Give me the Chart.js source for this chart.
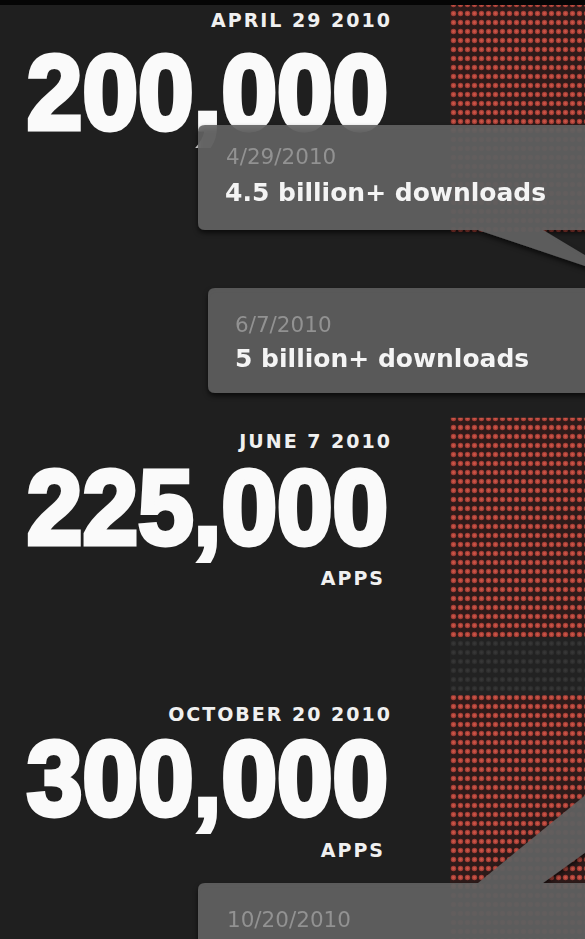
<!DOCTYPE html>
<html>
<head>
<meta charset="utf-8">
<script src="https://cdn.jsdelivr.net/npm/chart.js@4.4.0/dist/chart.umd.min.js"></script>
<style>
  html,body{margin:0;padding:0;width:585px;height:939px;overflow:hidden;background:#1f1f1f;}
  #wrap{position:absolute;left:450px;top:0;width:135px;height:939px;}
  #topbar{position:absolute;left:0;top:0;width:585px;height:5px;background:#050505;z-index:5;}
  .big{position:absolute;right:197px;line-height:0;height:0;white-space:nowrap;
       font-family:"Liberation Sans",Arial,sans-serif;font-weight:bold;font-size:106px;color:#fafafa;
       -webkit-text-stroke:5px #fafafa;transform:scaleX(0.943);transform-origin:right center;z-index:1;}
  .lab{position:absolute;line-height:0;height:0;white-space:nowrap;text-align:right;
       font-family:"DejaVu Sans",sans-serif;font-weight:bold;font-size:19px;letter-spacing:2px;color:#f0f0f0;z-index:1;}
  #callouts{position:absolute;left:0;top:0;z-index:2;}
  .cd{position:absolute;line-height:0;height:0;white-space:nowrap;font-family:"DejaVu Sans",sans-serif;
      font-size:21.5px;color:#929292;z-index:3;}
  .cm{position:absolute;line-height:0;height:0;white-space:nowrap;font-family:"DejaVu Sans",sans-serif;
      font-weight:bold;font-size:25px;color:#f4f4f4;z-index:3;}
</style>
</head>
<body>
<div id="topbar"></div>
<div id="wrap"><canvas id="c"></canvas></div>

<div class="lab" style="right:193px;top:20.4px;">APRIL 29 2010</div>
<div class="big" style="top:91.8px;">200,000</div>

<div class="lab" style="right:193px;top:441.4px;">JUNE 7 2010</div>
<div class="big" style="top:506.8px;">225,000</div>
<div class="lab" style="right:200px;top:578.4px;">APPS</div>

<div class="lab" style="right:193px;top:714.4px;">OCTOBER 20 2010</div>
<div class="big" style="top:777.8px;">300,000</div>
<div class="lab" style="right:200px;top:850.4px;">APPS</div>

<svg id="callouts" width="585" height="939">
  <defs>
    <filter id="sh" x="-10%" y="-20%" width="130%" height="150%">
      <feDropShadow dx="0" dy="3" stdDeviation="2.5" flood-color="#000" flood-opacity="0.7"/>
    </filter>
  </defs>
  <path filter="url(#sh)" fill="rgba(98,98,98,0.9)"
        d="M205,125 H600 V230 H543 L600,264 V271 L478,230 H205 Q198,230 198,223 V132 Q198,125 205,125 Z"/>
  <path filter="url(#sh)" fill="rgba(94,94,94,0.9)"
        d="M215,288 H600 V393 H215 Q208,393 208,386 V295 Q208,288 215,288 Z"/>
  <path filter="url(#sh)" fill="rgba(98,98,98,0.9)"
        d="M205,883 H478 L600,783 V842 L543,883 H600 V960 H198 V890 Q198,883 205,883 Z"/>
</svg>

<div class="cd" style="left:226px;top:156.6px;">4/29/2010</div>
<div class="cm" style="left:225px;top:193.4px;">4.5 billion+ downloads</div>
<div class="cd" style="left:235px;top:324.6px;">6/7/2010</div>
<div class="cm" style="left:235px;top:359.4px;">5 billion+ downloads</div>
<div class="cd" style="left:227px;top:919.6px;">10/20/2010</div>

<script>
// Vertical dot-matrix column: segments along the timeline (top -> bottom)
const segmentNames = ['April 29 2010', 'June 7 2010', 'gap', 'October 20 2010'];
const segmentStart = [0, 418, 637, 695];
const segmentEnd   = [232, 637, 695, 939];
const segmentKind  = ['apps', 'apps', 'gap', 'apps'];
const timelineMin = 0;
const timelineMax = 939;

const canvas = document.getElementById('c');
const ctx = canvas.getContext('2d');

function makePattern(bg, dot, hi) {
  const t = document.createElement('canvas');
  t.width = 7; t.height = 9;
  const g = t.getContext('2d');
  g.fillStyle = bg; g.fillRect(0, 0, 7, 9);
  g.fillStyle = dot; g.beginPath(); g.arc(3.5, 4.5, 2.7, 0, Math.PI * 2); g.fill();
  g.fillStyle = hi; g.beginPath(); g.arc(3.5, 4.5, 1.4, 0, Math.PI * 2); g.fill();
  return ctx.createPattern(t, 'repeat');
}
const fills = {
  apps: makePattern('#2e1b1a', '#a43f37', '#cc5547'),
  gap:  makePattern('#222222', '#2e2e2e', '#373737')
};

const datasets = segmentNames.map((name, i) => ({
  label: name,
  data: [[segmentStart[i], segmentEnd[i]]],
  backgroundColor: fills[segmentKind[i]],
  borderWidth: 0,
  borderSkipped: false,
  barPercentage: 1,
  categoryPercentage: 1
}));

new Chart(canvas, {
  type: 'bar',
  data: { labels: ['timeline'], datasets },
  options: {
    responsive: true,
    maintainAspectRatio: false,
    devicePixelRatio: 1,
    animation: false,
    layout: { padding: 0 },
    plugins: { legend: { display: false }, tooltip: { enabled: false } },
    scales: {
      x: { stacked: true, display: false },
      y: { min: timelineMin, max: timelineMax, reverse: true, display: false }
    }
  }
});
</script>
</body>
</html>
